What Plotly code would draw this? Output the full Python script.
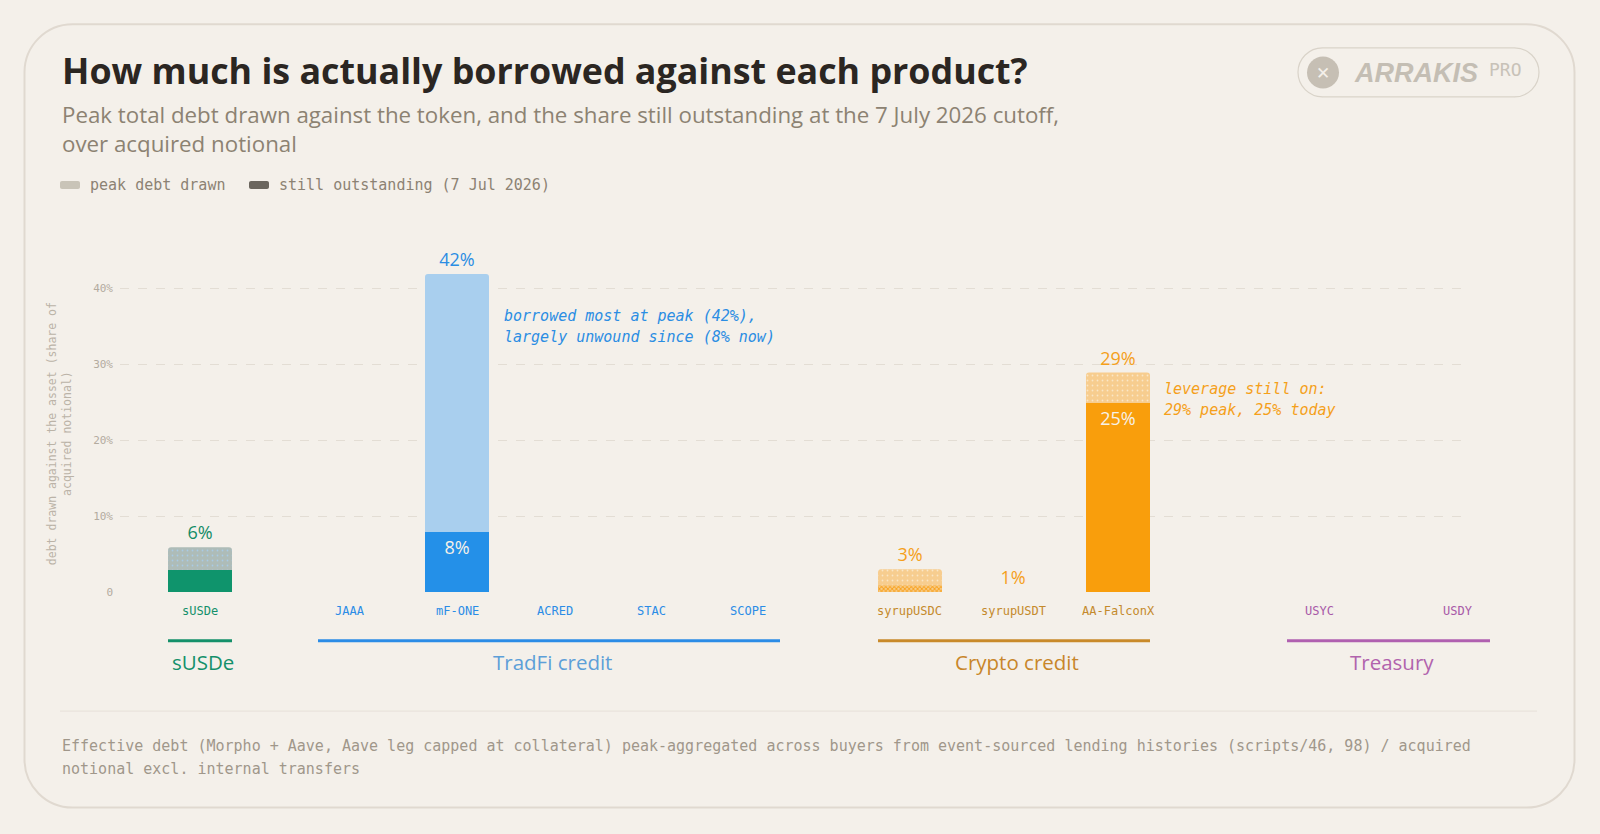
import plotly.graph_objects as go

# ---- data ----
products = ["sUSDe", "JAAA", "mF-ONE", "ACRED", "STAC", "SCOPE",
            "syrupUSDC", "syrupUSDT", "AA-FalconX", "USYC", "USDY"]
product_group = ["sUSDe", "TradFi credit", "TradFi credit", "TradFi credit", "TradFi credit",
                 "TradFi credit", "Crypto credit", "Crypto credit", "Crypto credit",
                 "Treasury", "Treasury"]
peak_debt = [5.9, 0, 41.9, 0, 0, 0, 3.0, 0, 28.9, 0, 0]          # % of acquired notional
outstanding = [2.9, 0, 7.9, 0, 0, 0, 0.85, 0, 24.9, 0, 0]       # % still outstanding 7 Jul 2026
peak_labels = ["6%", "", "42%", "", "", "", "3%", "1%", "29%", "", ""]
inner_labels = ["", "", "8%", "", "", "", "", "", "25%", "", ""]
groups = ["sUSDe", "TradFi credit", "Crypto credit", "Treasury"]
y_ticks = [0, 10, 20, 30, 40]
y_ticktext = ["0", "10%", "20%", "30%", "40%"]

# ---- layout / styling ----
W, H = 1600, 834
ML, MR, MT, MB = 120, 130, 258, 242.3
PW, PH = W - ML - MR, H - MT - MB
X_POS = [200, 350, 457, 555, 651, 748, 910, 1013, 1118, 1319, 1458]   # bar centres in px
BAR_W = 64

BG = "#f4f0ea"
MONO = "DejaVu Sans Mono"
SANS = "Open Sans"

group_style = {
    "sUSDe":         dict(tick="#14906a", title="#14906a", line="#14906a", label="#138c66",
                          peak="#aebcb8", peak_dot="#a9cbe6", out="#0f946c"),
    "TradFi credit": dict(tick="#2b8ce6", title="#5d9fd8", line="#2b8ce6", label="#2b8de3",
                          peak="#a9cfee", peak_dot=None, out="#2490e8"),
    "Crypto credit": dict(tick="#c48a2c", title="#c8862a", line="#c98a2a", label="#f5a01a",
                          peak="#f7cd8f", peak_dot="#fbe6c6", out="#f99e0c"),
    "Treasury":      dict(tick="#a85aa8", title="#b163ad", line="#b060b0", label="#a85aa8",
                          peak="#d9b8d8", peak_dot=None, out="#a85aa8"),
}
HATCHED_OUT = ["syrupUSDC"]   # outstanding drawn hatched (tiny amount)


def xp(px):
    return (px - ML) / PW


def yp(py):
    return (H - MB - py) / PH


def rrect(x0, y0, x1, y1, r):
    k = 0.5523 * r
    pts = [
        ("M", [(x0 + r, y0)]), ("L", [(x1 - r, y0)]),
        ("C", [(x1 - r + k, y0), (x1, y0 + r - k), (x1, y0 + r)]),
        ("L", [(x1, y1 - r)]),
        ("C", [(x1, y1 - r + k), (x1 - r + k, y1), (x1 - r, y1)]),
        ("L", [(x0 + r, y1)]),
        ("C", [(x0 + r - k, y1), (x0, y1 - r + k), (x0, y1 - r)]),
        ("L", [(x0, y0 + r)]),
        ("C", [(x0, y0 + r - k), (x0 + r - k, y0), (x0 + r, y0)]),
    ]
    s = ""
    for cmd, coords in pts:
        s += cmd + " " + " ".join(f"{xp(a):.5f},{yp(b):.5f}" for a, b in coords) + " "
    return s + "Z"


def note(text, x, y, size, color, family=MONO, xanchor="left", weight=None, **kw):
    f = dict(family=family, size=size, color=color)
    if weight:
        f["weight"] = weight
    return dict(text=text, x=xp(x), y=yp(y), xref="paper", yref="paper", showarrow=False,
                xanchor=xanchor, yanchor="middle", font=f, **kw)


fig = go.Figure()

# peak bars, one trace per group so each gets its own fill/pattern
for g in groups:
    st = group_style[g]
    idx = [i for i, gg in enumerate(product_group) if gg == g]
    pattern = dict(shape="")
    if st["peak_dot"]:
        pattern = dict(shape=".", fgcolor=st["peak_dot"], bgcolor=st["peak"], size=5,
                       solidity=0.1, fillmode="replace")
    fig.add_trace(go.Bar(
        x=[X_POS[i] for i in idx], y=[peak_debt[i] for i in idx], width=BAR_W,
        marker=dict(color=st["peak"], line=dict(width=0), cornerradius=3, pattern=pattern),
        text=[peak_labels[i] for i in idx], textposition="outside", constraintext="none",
        cliponaxis=False, textfont=dict(family=SANS, size=18, color=st["label"]),
        hoverinfo="skip",
    ))

# outstanding bars
for g in groups:
    st = group_style[g]
    idx = [i for i, gg in enumerate(product_group) if gg == g and products[i] not in HATCHED_OUT]
    fig.add_trace(go.Bar(
        x=[X_POS[i] for i in idx], y=[outstanding[i] for i in idx], width=BAR_W,
        marker=dict(color=st["out"], line=dict(width=0)),
        text=[inner_labels[i] for i in idx], textposition="inside", insidetextanchor="end",
        textangle=0, constraintext="none",
        textfont=dict(family=SANS, size=18, color="#f6f1e8"),
        hoverinfo="skip",
    ))
idx = [i for i, p in enumerate(products) if p in HATCHED_OUT]
fig.add_trace(go.Bar(
    x=[X_POS[i] for i in idx], y=[outstanding[i] for i in idx], width=BAR_W,
    marker=dict(color="#f7cd8f", line=dict(width=0),
                pattern=dict(shape="x", fgcolor="#f9a11a", bgcolor="#f7cd8f", size=3,
                             solidity=0.5, fillmode="replace")),
    hoverinfo="skip",
))

shapes = []
annotations = []

# card + logo pill
shapes.append(dict(type="path", xref="paper", yref="paper", path=rrect(24.5, 24.5, 1574.5, 807, 48),
                   line=dict(color="#e0d9d0", width=2), fillcolor=BG, layer="below"))
shapes.append(dict(type="path", xref="paper", yref="paper", path=rrect(1298, 48, 1539, 97, 24.5),
                   line=dict(color="#d9d3c9", width=1.2), fillcolor="rgba(0,0,0,0)"))
shapes.append(dict(type="circle", xref="paper", yref="paper",
                   x0=xp(1307), x1=xp(1339), y0=yp(88.7), y1=yp(56.7),
                   line=dict(width=0), fillcolor="#c6bfb4"))
annotations.append(note("✕", 1323, 73, 17, BG, family="DejaVu Sans", xanchor="center"))
annotations.append(note("<b><i>ARRAKIS</i></b>", 1352, 73, 27, "#c4beb4", family="Liberation Sans"))
annotations.append(note("PRO", 1487, 70, 18, "#c8c2b8"))

# title + subtitle
annotations.append(note("<b>How much is actually borrowed against each product?</b>", 60, 70, 35.8,
                        "#2b2622", family=SANS))
annotations.append(note("Peak total debt drawn against the token, and the share still outstanding at the 7 July 2026 cutoff,",
                        60, 114.5, 22.3, "#8c8272", family=SANS))
annotations.append(note("over acquired notional", 60, 143.5, 22.3, "#8c8272", family=SANS))

# legend
shapes.append(dict(type="path", xref="paper", yref="paper", path=rrect(60, 181, 80, 189, 2),
                   line=dict(width=0), fillcolor="#c9c4b8"))
shapes.append(dict(type="path", xref="paper", yref="paper", path=rrect(249, 181, 269, 189, 2),
                   line=dict(width=0), fillcolor="#6b665e"))
annotations.append(note("peak debt drawn", 88, 185, 15, "#8c8273"))
annotations.append(note("still outstanding (7 Jul 2026)", 277, 185, 15, "#8c8273"))

# y-axis title
annotations.append(note("debt drawn against the asset (share of<br>acquired notional)", 59, 434, 11.5,
                        "#bbb3a7", xanchor="center", textangle=-90))

# product labels under each bar
for p, g, xpos in zip(products, product_group, X_POS):
    annotations.append(note(p, xpos, 611, 12, group_style[g]["tick"], xanchor="center"))

# group brackets + names
for g in groups:
    xs = [xpos for xpos, gg in zip(X_POS, product_group) if gg == g]
    x0, x1 = min(xs) - BAR_W / 2, max(xs) + BAR_W / 2
    shapes.append(dict(type="line", xref="paper", yref="paper", x0=xp(x0), x1=xp(x1),
                       y0=yp(640.3), y1=yp(640.3),
                       line=dict(color=group_style[g]["line"], width=3)))
    annotations.append(note(g, (x0 + x1) / 2 + 3, 662, 20.5, group_style[g]["title"], family=SANS,
                            xanchor="center", weight=500))

# callouts
annotations.append(note("<i>borrowed most at peak (42%),</i>", 502, 316, 15, "#2b8de3"))
annotations.append(note("<i>largely unwound since (8% now)</i>", 502, 337, 15, "#2b8de3"))
annotations.append(note("<i>leverage still on:</i>", 1162, 389, 15, "#f5a01a"))
annotations.append(note("<i>29% peak, 25% today</i>", 1162, 410, 15, "#f5a01a"))

# footer
shapes.append(dict(type="line", xref="paper", yref="paper", x0=xp(60), x1=xp(1537),
                   y0=yp(710.7), y1=yp(710.7), line=dict(color="#e6e0d8", width=1)))
annotations.append(note("Effective debt (Morpho + Aave, Aave leg capped at collateral) peak-aggregated across buyers from event-sourced lending histories (scripts/46, 98) / acquired",
                        60, 746, 15, "#a0978a"))
annotations.append(note("notional excl. internal transfers", 60, 769, 15, "#a0978a"))

fig.update_layout(
    width=W, height=H,
    margin=dict(l=ML, r=MR, t=MT, b=MB, pad=0),
    paper_bgcolor=BG, plot_bgcolor="rgba(0,0,0,0)",
    barmode="overlay", showlegend=False, hovermode=False,
    font=dict(family=MONO, color="#8c8273"),
    xaxis=dict(range=[ML, W - MR], showgrid=False, zeroline=False, showticklabels=False,
               showline=False, fixedrange=True),
    yaxis=dict(range=[0, 44], tickvals=y_ticks, ticktext=y_ticktext, showgrid=True,
               gridcolor="#e3ddd4", gridwidth=1, griddash="dash", zeroline=False, showline=False,
               ticks="", ticklabelstandoff=6,
               tickfont=dict(family=MONO, size=11, color="#b3ab9f"), fixedrange=True),
    shapes=shapes, annotations=annotations,
)

fig.write_html("out.html", config={"displayModeBar": False},
               post_script="document.body.style.margin='0';document.body.style.background='%s';" % BG)
